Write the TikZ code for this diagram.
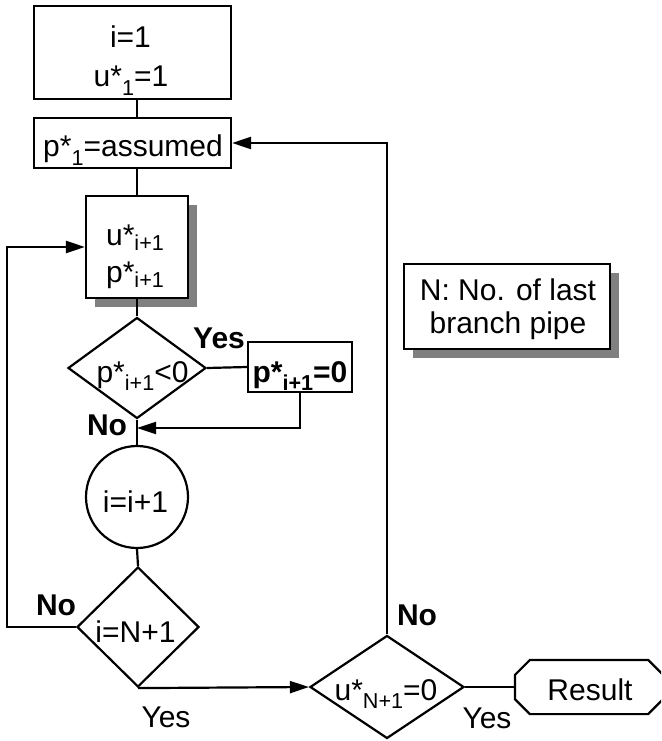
\documentclass[tikz,border=0pt]{standalone}
\usepackage{fontspec}
\setmainfont{Liberation Sans}
\usetikzlibrary{shapes.geometric,shadows,arrows.meta,calc}
\newcommand\sbs[1]{\raisebox{-0.27em}{\scalebox{0.72}{#1}}}
\newcommand\sbsb[1]{\raisebox{-0.17em}{\scalebox{0.72}{#1}}}
\begin{document}
\begin{tikzpicture}[x=1pt,y=-1pt,
  line width=2.2pt,
  every node/.style={font=\fontsize{30}{34}\selectfont, inner sep=0pt},
  box/.style={draw, rectangle, fill=white},
  shd/.style={drop shadow={shadow xshift=9pt, shadow yshift=-9pt, fill=black!50, opacity=1}},
  dia/.style={draw, diamond, inner sep=0pt},
  txt/.style={anchor=base},
  txtb/.style={anchor=base, font=\fontsize{30}{34}\selectfont\bfseries},
  arr/.style={-{Triangle[length=19pt,width=12pt]}}
]
\useasboundingbox (0,0) rectangle (661,741);
\clip (0,0) rectangle (661,741);

% shapes
\node[box, minimum width=197pt, minimum height=93pt] (b1) at (132.5,52.5) {};
\node[box, minimum width=197pt, minimum height=50pt] (b2) at (132.5,143) {};
\node[box, shd, minimum width=102pt, minimum height=102pt] (b3) at (137,247) {};
\node[dia, minimum width=138pt, minimum height=101pt] (d1) at (137,368) {};
\node[box, minimum width=104pt, minimum height=50pt] (b4) at (300,367) {};
\node[draw, circle, minimum size=102pt] (c) at (137,497) {};
\node[dia, minimum width=122pt, minimum height=120pt] (d2) at (138,627) {};
\node[dia, minimum width=154pt, minimum height=103pt] (d3) at (387,687) {};
\node[minimum width=146pt, minimum height=52pt] (r) at (589,687) {};
\draw ($(r.north west)+(15,0)$) -- ($(r.north east)+(-15,0)$) -- ($(r.north east)+(0,15)$)
  -- ($(r.south east)+(0,-15)$) -- ($(r.south east)+(-15,0)$) -- ($(r.south west)+(15,0)$)
  -- ($(r.south west)+(0,-15)$) -- ($(r.north west)+(0,15)$) -- cycle;
\node[box, shd, minimum width=206pt, minimum height=85pt] (nb) at (507,306.5) {};

% texts
\node[txt] (tb1a) at (130.5,48) {i=1};
\node[txt] (tb1b) at (131,87) {u*\sbs{1}=1};
\node[txt] (tb2) at (133,157) {p*\sbs{1}=assumed};
\node[txt] (tb3a) at (135,245) {u*\sbsb{i+1}};
\node[txt] (tb3b) at (135,282) {p*\sbsb{i+1}};
\node[txt] (td1) at (142.5,382) {p*\sbs{i+1}<0};
\node[txtb] (tb4) at (300,382) {p*\sbs{i+1}=0};
\node[txt] (tc) at (135.5,512) {i=i+1};
\node[txt] (td2) at (135.5,642) {i=N+1};
\node[txt] (td3) at (386,700) {u*\sbs{N+1}=0};
\node[txt] (tr) at (590,700) {Result};
\node[txt] (tnb1) at (508,300) {N: No. of last};
\node[txt] (tnb2) at (508,333) {branch pipe};

% labels
\node[txtb] (y1) at (219,348) {Yes};
\node[txtb] (n1) at (107,435) {No};
\node[txtb] (n2) at (56,615) {No};
\node[txt] (y2) at (166,727) {Yes};
\node[txtb] (n3) at (417,625) {No};
\node[txt] (y3) at (487,728) {Yes};

% connectors
\coordinate (m1) at (137,428);
\draw (b3.north |- b1.south) -- (b3.north |- b2.north);
\draw (b3.north |- b2.south) -- (b3.north);
\draw (b3.south) -- (d1.north);
\draw (d1.east) -- (b4.west);
\draw[arr] (b4.south) |- (m1);
\draw (d1.south) -- (c.north);
\draw (c.south) -- (d2.north);
\draw[arr] (d2.west) -- ++(-69,0) |- (b3.west);
\draw[arr] (d2.south) -- (d3.west);
\draw[arr] (d3.north) |- (b2.east);
\draw (d3.east) -- (r.west);
\end{tikzpicture}
\end{document}
